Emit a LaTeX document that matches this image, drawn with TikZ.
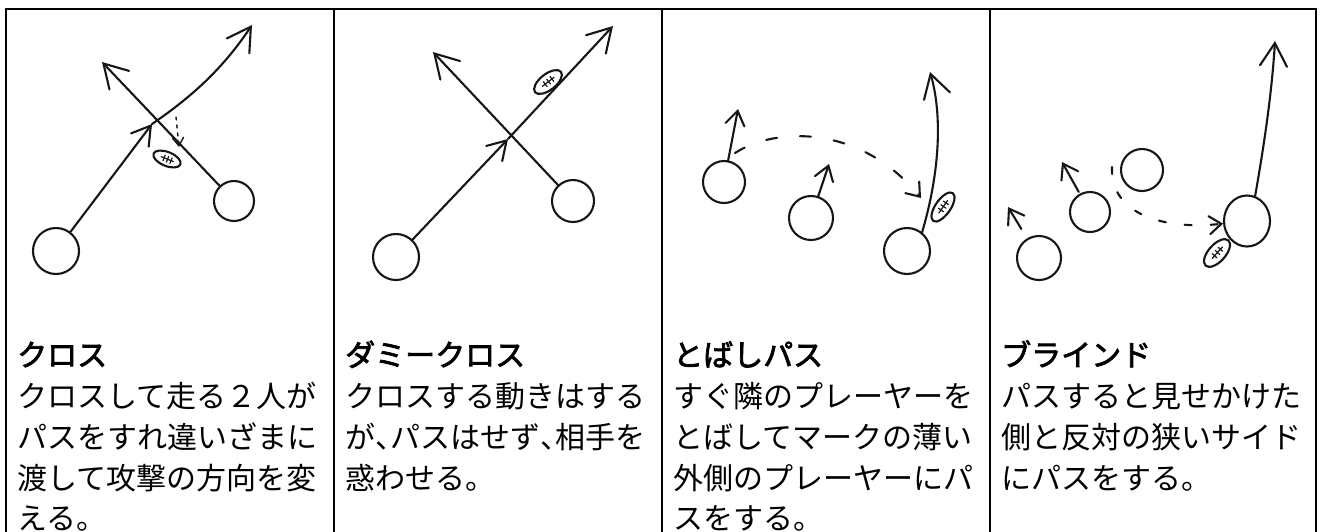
\documentclass[tikz,border=0pt]{standalone}
\usepackage{fontspec}
\newfontfamily\jp{Noto Sans CJK JP}
\newfontfamily\jptitle[FakeBold=2.5]{Noto Sans CJK JP}
\newfontfamily\jphalf[RawFeature=+halt]{Noto Sans CJK JP}
\usetikzlibrary{arrows.meta, shapes.geometric, calc}
\definecolor{ink}{HTML}{161616}

\begin{document}
\begin{tikzpicture}[x=1pt, y=-1pt,
  frame/.style={draw=black, line width=2pt, line join=miter},
  inkline/.style={draw=ink, line width=2.1pt, line cap=round, line join=round},
  player/.style={circle, inkline, inner sep=0pt, outer sep=0pt},
  run/.style={inkline, -{Straight Barb[length=23pt, width=27pt, line cap=round]}},
  midrun/.style={inkline, -{Straight Barb[length=18pt, width=22pt, line cap=round]}},
  hop/.style={inkline, -{Straight Barb[length=14pt, width=19pt, line cap=round]}},
  pass/.style={inkline, dash pattern=on 11pt off 23pt, -{Straight Barb[length=12pt, width=18pt, line cap=round]}},
  shortpass/.style={inkline, line width=1.4pt, dash pattern=on 3pt off 5pt, -{Straight Barb[length=8pt, width=11pt, line cap=round]}},
  ball/.style={ellipse, inkline, inner sep=0pt, minimum width=32pt, minimum height=15pt},
  ttl/.style={anchor=base west, inner sep=0pt, font=\jptitle\fontsize{30}{30}\selectfont},
  txt/.style={anchor=base west, inner sep=0pt, font=\jp\fontsize{30}{30}\selectfont},
]
\useasboundingbox (0,0) rectangle (1322,531);
\fill[white] (0,0) rectangle (1322,531);

% table frame
\draw[frame] (6,540) -- (6,9) -- (1316,9) -- (1316,540);
\foreach \xx/\nm in {334/d1, 662/d2, 990/d3} {
  \coordinate (\nm top) at (\xx,9);
  \coordinate (\nm bot) at (\xx,540);
  \draw[frame] (\nm top) -- (\nm bot);
}

% lace marks on a ball
\newcommand\laces[1]{%
  \draw[inkline, line width=1.2pt] ($(#1.west)!0.3!(#1.east)$) -- ($(#1.west)!0.72!(#1.east)$);
  \foreach \t in {0.4,0.52,0.64}{
    \draw[inkline, line width=1.2pt] ($(#1.west)!\t!(#1.east)!3pt!90:(#1.east)$) -- ($(#1.west)!\t!(#1.east)!3pt!-90:(#1.east)$);
  }%
}

% ---------- cross ----------
\node[player, minimum size=46pt] (a1) at (56,251) {};
\node[player, minimum size=40pt] (b1) at (234,201) {};
\coordinate (x1) at (152,124);
\coordinate (a1end) at (252,25);
\coordinate (b1end) at (102,62);
\draw[midrun] (a1) -- (x1);
\draw[run] (x1) .. controls (190,98) and (222,70) .. (a1end);
\draw[run] (b1) -- (b1end);
\node[ball, rotate=-22, minimum width=29pt, minimum height=14pt] (ball1) at (167,159) {};
\laces{ball1}
\coordinate (p1s) at (176,117);
\coordinate (p1e) at (179,147);
\draw[shortpass] (p1s) -- (p1e);

% ---------- dummy cross ----------
\node[player, minimum size=46pt] (a2) at (396,257) {};
\node[player, minimum size=42pt] (b2) at (573,201) {};
\coordinate (x2) at (508,139);
\coordinate (a2end) at (613,26);
\coordinate (b2end) at (433,52);
\draw[midrun] (a2) -- (x2);
\draw[run] (x2) -- (a2end);
\draw[run] (b2) -- (b2end);
\node[ball, rotate=38, minimum width=33pt, minimum height=16pt] (ball2) at (548,82) {};
\laces{ball2}

% ---------- skip pass ----------
\node[player, minimum size=42pt] (e3) at (724,182) {};
\node[player, minimum size=44pt] (f3) at (811,218) {};
\node[player, minimum size=46pt] (g3) at (907,251) {};
\coordinate (e3end) at (738,109);
\coordinate (f3end) at (829,164);
\coordinate (g3end) at (930,72);
\draw[hop] (e3) -- (e3end);
\draw[hop] (f3) -- (f3end);
\coordinate (p3s) at (735,153);
\coordinate (p3e) at (921,198);
\draw[pass] (p3s) .. controls (775,127) and (860,124) .. (p3e);
\draw[run] (g3.50) .. controls (942,165) and (941,110) .. (g3end);
\node[ball, rotate=55, minimum width=34pt, minimum height=15pt] (ball3) at (943,207) {};
\laces{ball3}

% ---------- blind ----------
\node[player, minimum size=44pt] (h4) at (1039,258) {};
\node[player, minimum size=40pt] (i4) at (1090,212) {};
\node[player, minimum size=42pt] (j4) at (1142,170) {};
\node[ellipse, inkline, inner sep=0pt, minimum width=46pt, minimum height=51pt] (k4) at (1247,221) {};
\coordinate (h4end) at (1008,207);
\coordinate (i4end) at (1062,162);
\coordinate (k4end) at (1275,41);
\draw[hop, shorten <=12pt] (h4) -- (h4end);
\draw[hop, shorten <=3pt] (i4) -- (i4end);
\coordinate (p4s) at (1112,167);
\draw[pass, dash pattern=on 7pt off 19pt] (p4s) .. controls (1110,215) and (1165,230) .. (k4);
\draw[run] (k4.72) .. controls (1265,140) and (1272,90) .. (k4end);
\node[ball, rotate=48, minimum width=34pt, minimum height=17pt] (ball4) at (1217,253) {};
\laces{ball4}

% ---------- captions ----------
\node[ttl] (t1) at (17,366) {クロス};
\node[txt] (t1a) at (17,407) {クロスして走る２人が};
\node[txt] (t1b) at (17,448) {パスをすれ違いざまに};
\node[txt] (t1c) at (17,489) {渡して攻撃の方向を変};
\node[txt] (t1d) at (17,529) {える。};

\node[ttl] (t2) at (345,366) {ダミークロス};
\node[txt] (t2a) at (345,407) {クロスする動きはする};
\node[txt] (t2b) at (345,448) {が{\jphalf 、}パスはせず{\jphalf 、}相手を};
\node[txt] (t2c) at (345,489) {惑わせる。};

\node[ttl] (t3) at (673,366) {とばしパス};
\node[txt] (t3a) at (673,407) {すぐ隣のプレーヤーを};
\node[txt] (t3b) at (673,448) {とばしてマークの薄い};
\node[txt] (t3c) at (673,489) {外側のプレーヤーにパ};
\node[txt] (t3d) at (673,529) {スをする。};

\node[ttl] (t4) at (1001,366) {ブラインド};
\node[txt] (t4a) at (1001,407) {パスすると見せかけた};
\node[txt] (t4b) at (1001,448) {側と反対の狭いサイド};
\node[txt] (t4c) at (1001,489) {にパスをする。};
\end{tikzpicture}
\end{document}
